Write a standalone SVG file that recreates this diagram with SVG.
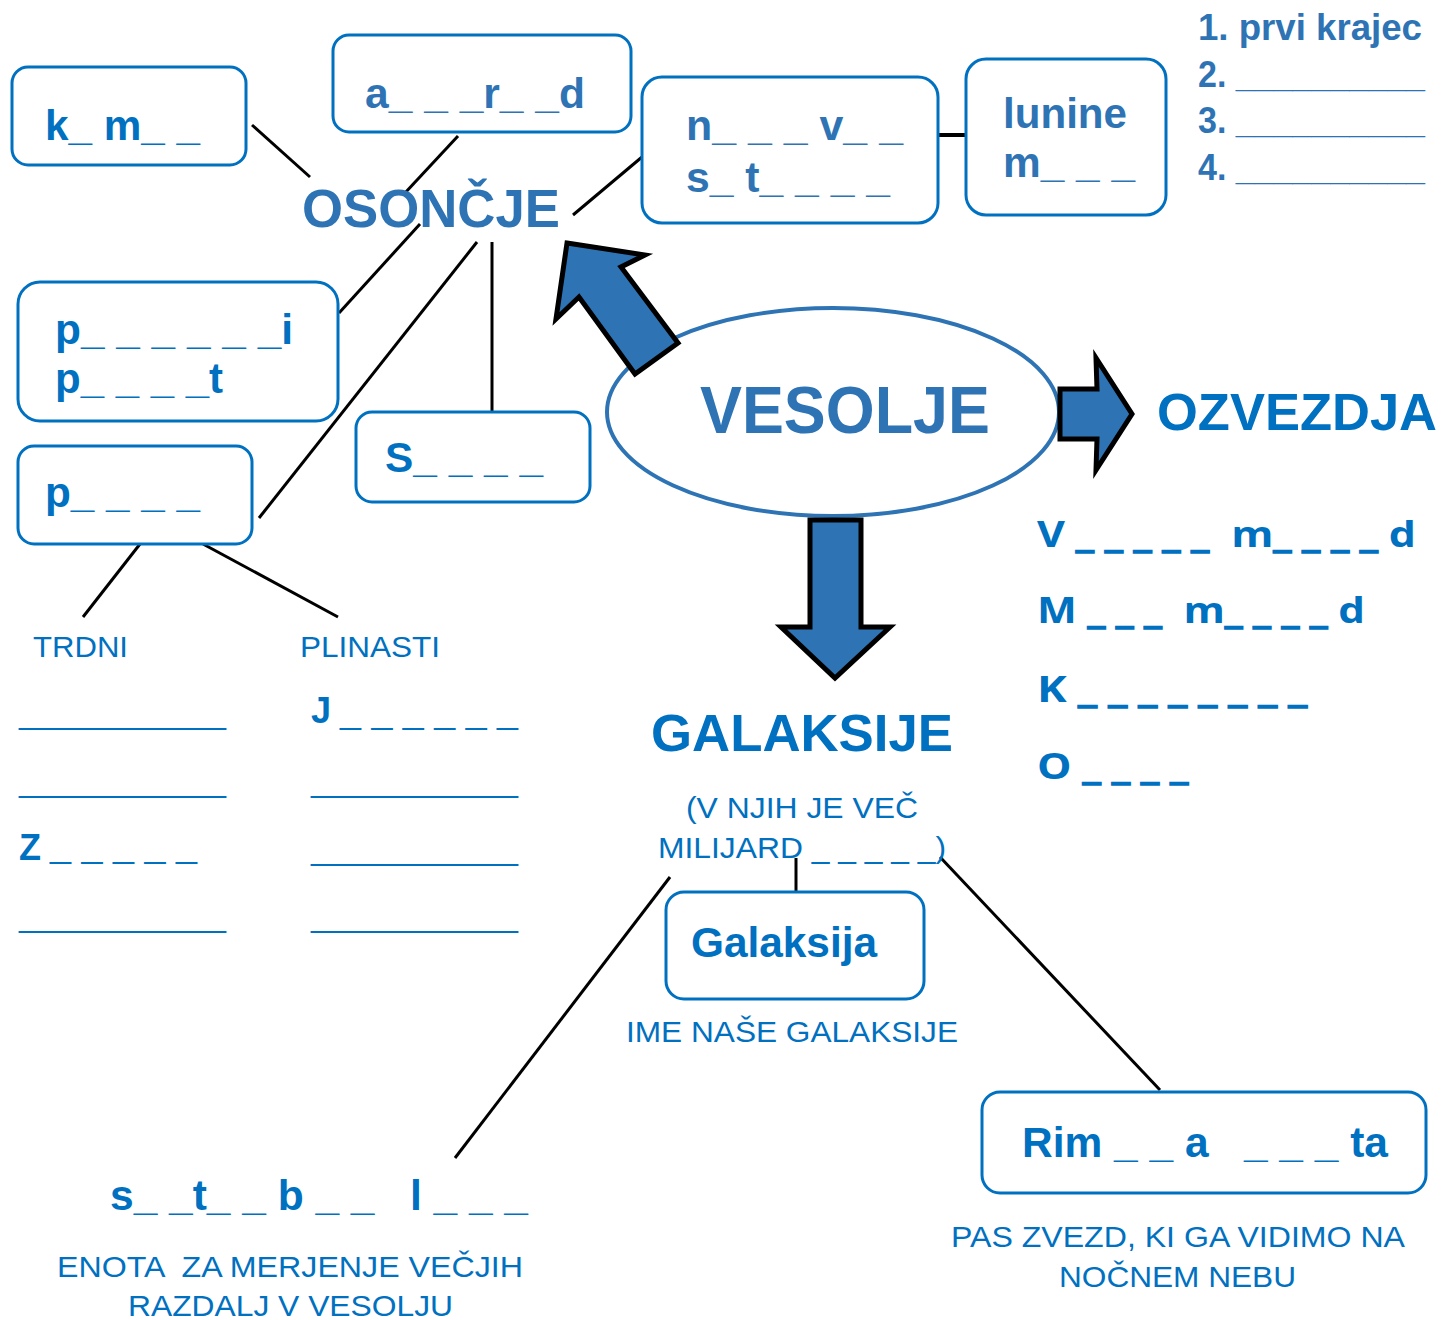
<svg xmlns="http://www.w3.org/2000/svg" width="1442" height="1320" viewBox="0 0 1442 1320">
<style>
.b{font-family:"Liberation Sans",Arial,sans-serif;font-weight:bold}
.r{font-family:"Liberation Sans",Arial,sans-serif}
.o{font-family:"Open Sans","Liberation Sans",sans-serif;font-weight:bold}
.c1{fill:#0070C0}
.c2{fill:#2E74B5}
.d{stroke:#0070C0;stroke-width:1.6}
.box{fill:#fff;stroke:#0070C0;stroke-width:3}
.ln{stroke:#000;stroke-width:3;fill:none}
.arr{fill:#2E74B5;stroke:#000;stroke-width:5;stroke-linejoin:miter}
text{white-space:pre}
</style>
<rect width="1442" height="1320" fill="#fff"/>
<g id="connectors">
<line class="ln" x1="252" y1="125" x2="310" y2="177"/>
<line class="ln" x1="458" y1="136" x2="404" y2="194"/>
<line class="ln" x1="420" y1="224" x2="339" y2="313"/>
<line class="ln" x1="573" y1="215" x2="642" y2="157"/>
<line class="ln" x1="477" y1="242" x2="259" y2="518"/>
<line class="ln" x1="492" y1="242" x2="492" y2="412"/>
<line class="ln" x1="938" y1="135" x2="966" y2="135" style="stroke-width:4"/>
<line class="ln" x1="140" y1="544" x2="83" y2="617"/>
<line class="ln" x1="203" y1="544" x2="338" y2="617"/>
<line class="ln" x1="670" y1="877" x2="455" y2="1158"/>
<line class="ln" x1="796" y1="858" x2="796" y2="892"/>
<line class="ln" x1="940" y1="857" x2="1160" y2="1090"/>
</g>
<g id="box-kometi"><rect class="box" x="12" y="67" width="234" height="98" rx="16"/><text class="b c1" x="45" y="140" font-size="42" textLength="155" lengthAdjust="spacingAndGlyphs">k_ m_ _</text></g>
<g id="box-asteroid"><rect class="box" x="333" y="35" width="298" height="97" rx="16"/><text class="b c2" x="365" y="108" font-size="42" textLength="220" lengthAdjust="spacingAndGlyphs">a_ _ _r_ _d</text></g>
<g id="box-sateliti"><rect class="box" x="642" y="77" width="296" height="146" rx="20"/><text class="b c2" x="686" y="140" font-size="42" textLength="217" lengthAdjust="spacingAndGlyphs">n_ _ _ v_ _</text><text class="b c2" x="686" y="192" font-size="42" textLength="204" lengthAdjust="spacingAndGlyphs">s_ t_ _ _ _</text></g>
<g id="box-lunine"><rect class="box" x="966" y="59" width="200" height="156" rx="20"/><text class="b c2" x="1003" y="128" font-size="42" textLength="124" lengthAdjust="spacingAndGlyphs">lunine</text><text class="b c2" x="1003" y="177" font-size="42" textLength="132" lengthAdjust="spacingAndGlyphs">m_ _ _</text></g>
<g id="list-lunine">
<text class="b c2" x="1198" y="40" font-size="36" textLength="224" lengthAdjust="spacingAndGlyphs">1. prvi krajec</text>
<text class="b c2" x="1198" y="87" font-size="36" textLength="227" lengthAdjust="spacingAndGlyphs">2. __________</text>
<text class="b c2" x="1198" y="133" font-size="36" textLength="227" lengthAdjust="spacingAndGlyphs">3. __________</text>
<text class="b c2" x="1198" y="180" font-size="36" textLength="227" lengthAdjust="spacingAndGlyphs">4. __________</text>
</g>
<g id="osoncje"><text class="b c2" x="302" y="227" font-size="54" textLength="258" lengthAdjust="spacingAndGlyphs">OSONČJE</text></g>
<g id="box-planeti"><rect class="box" x="18" y="282" width="320" height="139" rx="22"/><text class="b c1" x="55" y="344" font-size="42" textLength="238" lengthAdjust="spacingAndGlyphs">p_ _ _ _ _ _i</text><text class="b c1" x="55" y="393" font-size="42" textLength="168" lengthAdjust="spacingAndGlyphs">p_ _ _ _t</text></g>
<g id="box-planet"><rect class="box" x="18" y="446" width="234" height="98" rx="16"/><text class="b c1" x="45" y="507" font-size="42" textLength="155" lengthAdjust="spacingAndGlyphs">p_ _ _ _</text></g>
<g id="box-sonce"><rect class="box" x="356" y="412" width="234" height="90" rx="16"/><text class="b c1" x="385" y="472" font-size="42" textLength="158" lengthAdjust="spacingAndGlyphs">S_ _ _ _</text></g>
<g id="planet-types">
<text class="r c1" x="33" y="657" font-size="30" textLength="95" lengthAdjust="spacingAndGlyphs">TRDNI</text>
<text class="r c1" x="300" y="657" font-size="30" textLength="140" lengthAdjust="spacingAndGlyphs">PLINASTI</text>
<text class="r c1" x="19" y="724" font-size="30" textLength="207" lengthAdjust="spacingAndGlyphs">____________</text>
<text class="r c1" x="19" y="792" font-size="30" textLength="207" lengthAdjust="spacingAndGlyphs">____________</text>
<text class="b c1" x="19" y="860" font-size="36">Z</text>
<text class="r c1" x="50" y="858" font-size="30" textLength="147" lengthAdjust="spacingAndGlyphs">_ _ _ _ _</text>
<text class="r c1" x="19" y="927" font-size="30" textLength="207" lengthAdjust="spacingAndGlyphs">____________</text>
<text class="b c1" x="311" y="723" font-size="36">J</text>
<text class="r c1" x="340" y="724" font-size="30" textLength="178" lengthAdjust="spacingAndGlyphs">_ _ _ _ _ _</text>
<text class="r c1" x="311" y="792" font-size="30" textLength="207" lengthAdjust="spacingAndGlyphs">____________</text>
<text class="r c1" x="311" y="860" font-size="30" textLength="207" lengthAdjust="spacingAndGlyphs">____________</text>
<text class="r c1" x="311" y="927" font-size="30" textLength="207" lengthAdjust="spacingAndGlyphs">____________</text>
</g>
<g id="vesolje"><ellipse cx="833" cy="412" rx="226" ry="104" fill="#fff" stroke="#2E74B5" stroke-width="4"/><text class="b c2" x="700" y="433" font-size="66" textLength="290" lengthAdjust="spacingAndGlyphs">VESOLJE</text></g>
<g id="arrows">
<polygon class="arr" points="567,243 645,255 621,267 678,343 635,374 579,297 556,319"/>
<polygon class="arr" points="1060,389 1097,389 1096,358 1132,414 1096,470 1097,439 1060,439"/>
<polygon class="arr" points="810,520 861,520 861,627 890,627 835,678 781,627 810,627"/>
</g>
<g id="ozvezdja"><text class="b c1" x="1157" y="430" font-size="52" textLength="280" lengthAdjust="spacingAndGlyphs">OZVEZDJA</text>
<text class="o c1" x="1037" y="547" font-size="36" textLength="379" lengthAdjust="spacingAndGlyphs">V <tspan class="d">_ _ _ _ _</tspan>  m<tspan class="d">_ _ _ _</tspan> d</text>
<text class="o c1" x="1037" y="623" font-size="36" textLength="328" lengthAdjust="spacingAndGlyphs">M <tspan class="d">_ _ _</tspan>  m<tspan class="d">_ _ _ _</tspan> d</text>
<text class="o c1" x="1037" y="702" font-size="36" textLength="270" lengthAdjust="spacingAndGlyphs">K <tspan class="d">_ _ _ _ _ _ _ _</tspan></text>
<text class="o c1" x="1037" y="779" font-size="36" textLength="151" lengthAdjust="spacingAndGlyphs">O <tspan class="d">_ _ _ _</tspan></text>
</g>
<g id="galaksije"><text class="b c1" x="651" y="751" font-size="52" textLength="302" lengthAdjust="spacingAndGlyphs">GALAKSIJE</text>
<text class="r c1" x="686" y="818" font-size="30" textLength="232" lengthAdjust="spacingAndGlyphs">(V NJIH JE VEČ</text>
<text class="r c1" x="658" y="858" font-size="30" textLength="288" lengthAdjust="spacingAndGlyphs">MILIJARD _ _ _ _ _)</text>
</g>
<g id="box-galaksija"><rect class="box" x="666" y="892" width="258" height="107" rx="18"/><text class="b c1" x="691" y="957" font-size="42" textLength="186" lengthAdjust="spacingAndGlyphs">Galaksija</text><text class="r c1" x="626" y="1042" font-size="30" textLength="332" lengthAdjust="spacingAndGlyphs">IME NAŠE GALAKSIJE</text></g>
<g id="svetlobno-leto"><text class="b c1" x="110" y="1210" font-size="42" textLength="418" lengthAdjust="spacingAndGlyphs">s_ _t_ _ b _ _   l _ _ _</text>
<text class="r c1" x="57" y="1277" font-size="30" textLength="466" lengthAdjust="spacingAndGlyphs">ENOTA  ZA MERJENJE VEČJIH</text>
<text class="r c1" x="128" y="1316" font-size="30" textLength="325" lengthAdjust="spacingAndGlyphs">RAZDALJ V VESOLJU</text></g>
<g id="box-rimska"><rect class="box" x="982" y="1092" width="444" height="101" rx="18"/><text class="b c1" x="1022" y="1157" font-size="42" textLength="366" lengthAdjust="spacingAndGlyphs">Rim _ _ a   _ _ _ ta</text>
<text class="r c1" x="951" y="1247" font-size="30" textLength="454" lengthAdjust="spacingAndGlyphs">PAS ZVEZD, KI GA VIDIMO NA</text>
<text class="r c1" x="1059" y="1287" font-size="30" textLength="237" lengthAdjust="spacingAndGlyphs">NOČNEM NEBU</text></g>
</svg>
